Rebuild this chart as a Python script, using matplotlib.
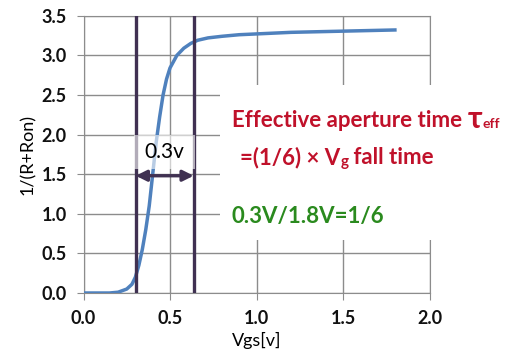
import matplotlib
matplotlib.use("Agg")
import matplotlib.pyplot as plt
from matplotlib.patches import Rectangle

# curve
vgs = [0.0, 0.15, 0.2, 0.25, 0.28, 0.30, 0.32, 0.34, 0.36, 0.38, 0.40, 0.42, 0.44,
       0.46, 0.48, 0.50, 0.54, 0.58, 0.62, 0.66, 0.72, 0.8, 0.9, 1.0, 1.2, 1.4, 1.6, 1.8]
cond = [0.0, 0.0, 0.01, 0.05, 0.11, 0.2, 0.35, 0.55, 0.8, 1.1, 1.5, 1.9, 2.22,
        2.5, 2.7, 2.84, 3.0, 3.09, 3.15, 3.19, 3.22, 3.24, 3.26, 3.27, 3.29, 3.30, 3.31, 3.32]
v_lo, v_hi = 0.302, 0.637
xticks = [0.0, 0.5, 1.0, 1.5, 2.0]
yticks = [0.0, 0.5, 1.0, 1.5, 2.0, 2.5, 3.0, 3.5]

plt.rcParams['font.family'] = ['Lato', 'DejaVu Sans']
W, H = 530, 359
fig = plt.figure(figsize=(W / 100, H / 100), dpi=100)
ax = fig.add_axes([83.5 / W, 1 - 293 / H, 346 / W, (293 - 15.7) / H])

gray = '#8c8c8c'
ax.plot(vgs, cond, color='#4f81bd', lw=2.5, zorder=3)
ax.set_xlim(0, 2.0)
ax.set_ylim(0, 3.5)
ax.set_xticks(xticks)
ax.set_yticks(yticks)
ax.set_xticklabels(['%.1f' % t for t in xticks], fontweight='bold', fontsize=13)
ax.set_yticklabels(['%.1f' % t for t in yticks], fontweight='bold', fontsize=13)
ax.grid(True, color=gray, lw=1)
ax.set_axisbelow(True)
for s in ax.spines.values():
    s.set_color(gray)
ax.tick_params(length=5, color=gray, labelcolor='#111111', pad=7)
ax.set_xlabel('Vgs[v]', fontsize=13, labelpad=4)
ax.set_ylabel('1/(R+Ron)', fontsize=13, labelpad=4)

purple = '#403152'
ax.axvline(v_lo, color=purple, lw=2.4, zorder=4)
ax.axvline(v_hi, color=purple, lw=2.4, zorder=4)
ax.add_patch(Rectangle((v_lo - 0.01, 1.56), v_hi - v_lo + 0.02, 0.44,
                       facecolor='white', alpha=0.6, edgecolor='none', zorder=6))
ax.annotate('', xy=(v_lo, 1.48), xytext=(v_hi, 1.48),
            arrowprops=dict(arrowstyle='<|-|>', color=purple, lw=2.4,
                            mutation_scale=16, shrinkA=0, shrinkB=0), zorder=8)
ax.text(0.465, 1.78, '0.3v', fontsize=15, ha='center', va='center', zorder=7)

# white box behind the notes
fig.patches.append(Rectangle((220 / W, 1 - 240 / H), 310 / W, 155 / H,
                             transform=fig.transFigure, facecolor='white',
                             edgecolor='none', zorder=2))
red = '#c0112a'
green = '#2a8a1e'
r = fig.canvas.get_renderer()


def chain(pieces, x, y):
    # place text pieces one after another, left to right, in pixels
    for s, size, dy in pieces:
        t = fig.text(x / W, 1 - (y + dy) / H, s, color=red, fontsize=size,
                     fontweight='bold', va='center', zorder=3)
        x = t.get_window_extent(r).x1


chain([('Effective aperture time ', 16, 0), ('\u03c4', 22, -1), ('eff', 10, 4)], 232, 120)
chain([('=(1/6) \u00d7 V', 16, 0), ('g', 11, 4), (' fall time', 16, 0)], 240, 158)
fig.text(232 / W, 1 - 217 / H, '0.3V/1.8V=1/6', color=green,
         fontsize=16, fontweight='bold', va='center', zorder=3)

fig.savefig('out.png', dpi=100)
